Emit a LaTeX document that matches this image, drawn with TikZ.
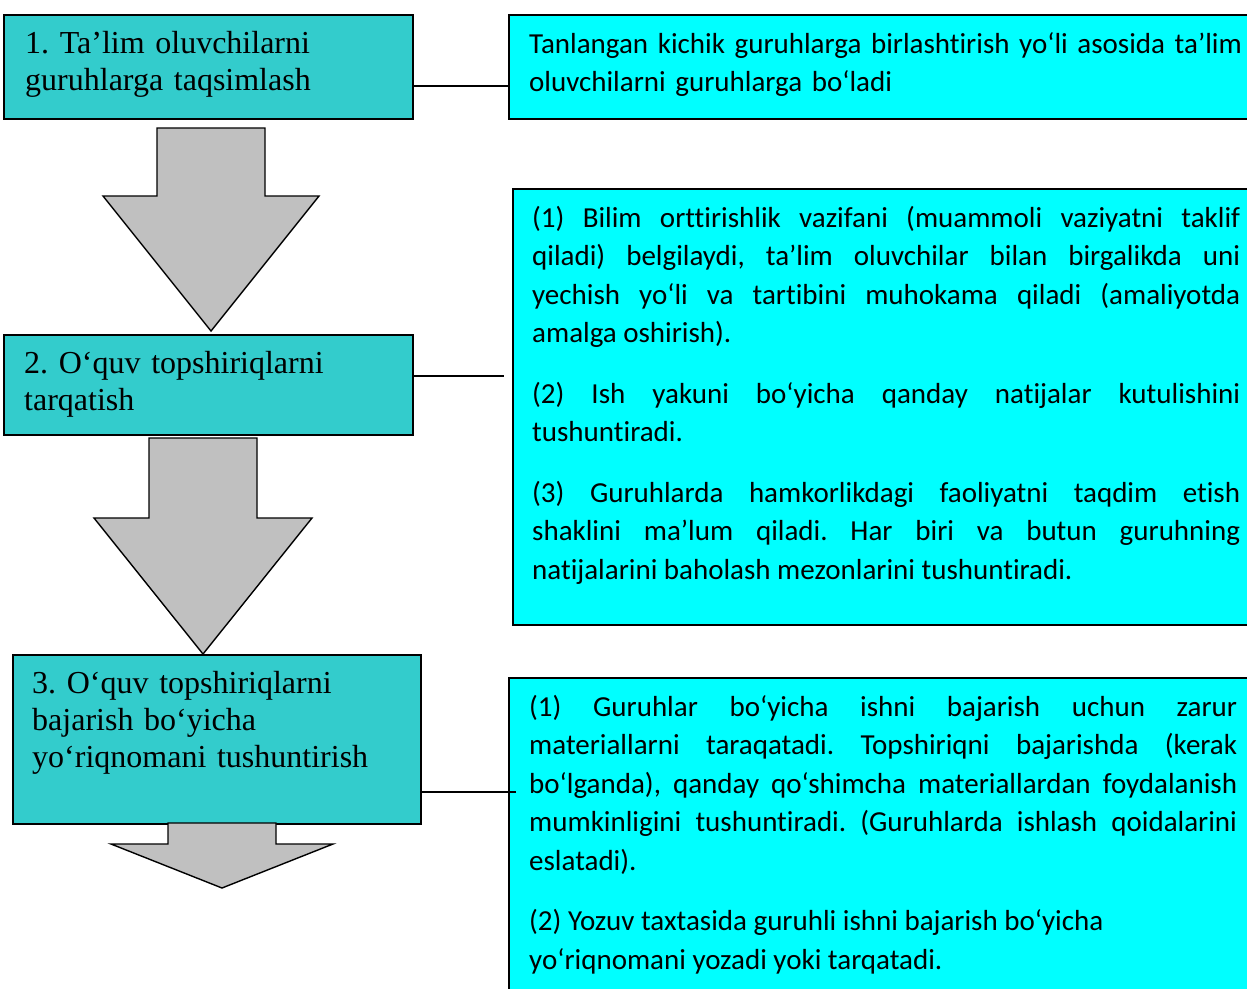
\documentclass[tikz,border=0pt]{standalone}
\usepackage{fontspec}
\setmainfont{Liberation Serif}
\newfontfamily\calibri[Ligatures=NoCommon]{Carlito}
\definecolor{stepteal}{HTML}{33CCCC}
\definecolor{notecyan}{HTML}{00FFFF}
\definecolor{arrowgrey}{HTML}{C0C0C0}
\begin{document}
\begin{tikzpicture}[x=1pt,y=-1pt,
  stepbox/.style={draw=black,line width=1.8pt,fill=stepteal,anchor=north west,inner sep=0pt},
  notebox/.style={draw=black,line width=1.8pt,fill=notecyan,anchor=north west,inner sep=0pt},
  steptext/.style={anchor=base west,inner sep=0pt,text width=385pt,align=left,
    font=\fontsize{32}{37}\selectfont\frenchspacing},
  notetext/.style={anchor=base west,inner sep=0pt,text width=708pt,align=justify,
    font=\calibri\fontsize{29}{38.6}\selectfont\frenchspacing\sloppy},
  blockarrow/.style={draw=black,line width=1.4pt,fill=arrowgrey,line join=miter},
  link/.style={draw=black,line width=1.6pt}]
\useasboundingbox (0,0) rectangle (1247,988);
\clip (0,0) rectangle (1247,988);

% left column
\node[stepbox,minimum width=409pt,minimum height=104pt] (b1) at (3,14) {};
\node[stepbox,minimum width=409pt,minimum height=100pt] (b2) at (3,334) {};
\node[stepbox,minimum width=408pt,minimum height=169pt] (b3) at (12,654) {};

% right column
\node[notebox,minimum width=760pt,minimum height=104pt] (rb1) at (508,14) {};
\node[notebox,minimum width=760pt,minimum height=436pt] (rb2) at (512,188) {};
\node[notebox,minimum width=760pt,minimum height=330pt] (rb3) at (508,677) {};

% block arrows
\foreach \cx/\ytop/\ybase/\ytip/\hw in {211/128/196/331/108,203/438/518/654/109,222/823/844/888/111}
{
\draw[blockarrow] (\cx-54,\ytop) -- (\cx+54,\ytop) -- (\cx+54,\ybase) -- (\cx+\hw,\ybase)
  -- (\cx,\ytip) -- (\cx-\hw,\ybase) -- (\cx-54,\ybase) -- cycle;
}

% links
\coordinate (c2end) at (504,376);
\draw[link] (b1.east |- 0,86) -- (rb1.west |- 0,86);
\draw[link] (b2.east |- 0,376) -- (c2end);
\draw[link] (b3.east |- 0,792) -- ([xshift=8pt]rb3.west |- 0,792);

% texts
\node[steptext] (t1) at ([shift={(22,39)}]b1.north west)
  {1. Ta’lim oluvchilarni\\guruhlarga taqsimlash};
\node[steptext] (t2) at ([shift={(21,39)}]b2.north west)
  {2. O‘quv topshiriqlarni\\tarqatish};
\node[steptext] (t3) at ([shift={(20,39)}]b3.north west)
  {3. O‘quv topshiriqlarni\\bajarish bo‘yicha\\yo‘riqnomani tushuntirish};

\node[notetext,text width=730pt,align=left] (n1) at ([shift={(21,39)}]rb1.north west)
  {Tanlangan kichik guruhlarga birlashtirish yo‘li asosida ta’lim\\oluvchilarni guruhlarga bo‘ladi};
\node[notetext] (n2) at ([shift={(20,39)}]rb2.north west)
  {(1) Bilim orttirishlik vazifani (muammoli vaziyatni taklif\linebreak
   qiladi) belgilaydi, ta’lim oluvchilar bilan birgalikda uni\linebreak
   yechish yo‘li va tartibini muhokama qiladi (amaliyotda\linebreak
   amalga oshirish).\\[21.7pt]
   (2) Ish yakuni bo‘yicha qanday natijalar kutulishini\linebreak
   tushuntiradi.\\[21.7pt]
   (3) Guruhlarda hamkorlikdagi faoliyatni taqdim etish\linebreak
   shaklini ma’lum qiladi. Har biri va butun guruhning\linebreak
   natijalarini baholash mezonlarini tushuntiradi.};
\node[notetext] (n3) at ([shift={(21,39)}]rb3.north west)
  {(1) Guruhlar bo‘yicha ishni bajarish uchun zarur\linebreak
   materiallarni taraqatadi. Topshiriqni bajarishda (kerak\linebreak
   bo‘lganda), qanday qo‘shimcha materiallardan foydalanish\linebreak
   mumkinligini tushuntiradi. (Guruhlarda ishlash qoidalarini\linebreak
   eslatadi).\\[21.7pt]
   (2) Yozuv taxtasida guruhli ishni bajarish bo‘yicha\\
   yo‘riqnomani yozadi yoki tarqatadi.};
\end{tikzpicture}
\end{document}
